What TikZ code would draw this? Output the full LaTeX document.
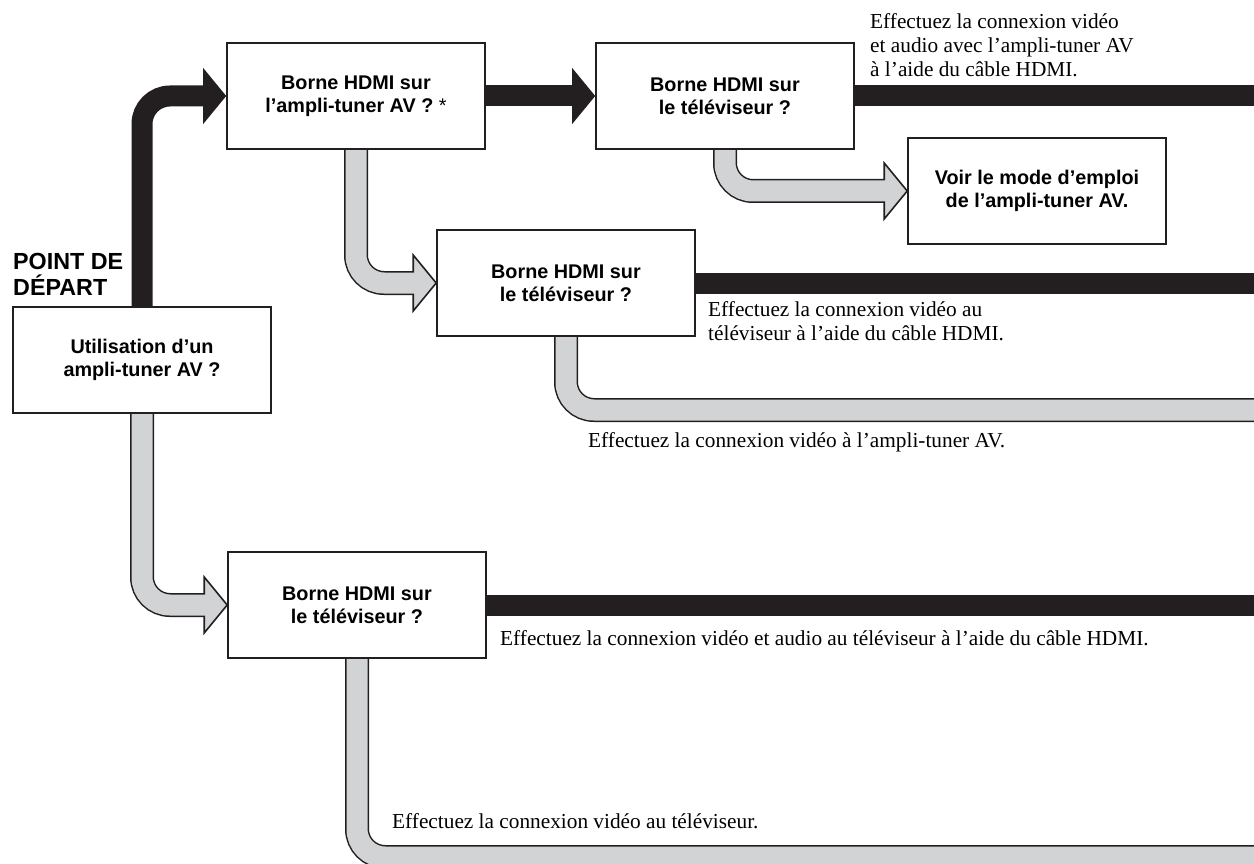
\documentclass[tikz,border=0pt]{standalone}
\usepackage{fontspec}
\setmainfont{Liberation Serif}
\setsansfont{Liberation Sans}
\usetikzlibrary{calc, backgrounds}

\definecolor{ink}{HTML}{231F20}
\definecolor{pale}{HTML}{D1D3D4}

\tikzset{
  box/.style={draw=ink, line width=1.6pt, fill=white, minimum width=258pt,
    minimum height=106pt, inner sep=0pt, align=center,
    font=\sffamily\bfseries\fontsize{19.8}{23}\selectfont},
  title/.style={anchor=base west, inner sep=0pt, align=left,
    font=\sffamily\bfseries\fontsize{23.3}{26}\selectfont},
  note/.style={anchor=base west, inner sep=0pt, align=left,
    font=\fontsize{21.3}{24}\selectfont},
  oui/.style={draw=ink, line width=21pt, rounded corners=28pt},
  nonout/.style={draw=ink, line width=24pt, rounded corners=28pt},
  nonin/.style={draw=pale, line width=21pt, rounded corners=28pt},
  nonhead/.style={fill=pale, draw=ink, line width=1.6pt},
}

\newcommand{\ouihead}[1]{%
  \fill[ink] (#1.west) -- ++(-23,-28) -- ++(0,56) -- cycle;}
\newcommand{\nonarrow}[2]{%
  \draw[nonout] (#1) |- ($(#2.west)+(-23,0)$);
  \filldraw[nonhead] (#2.west) -- ++(-23,-28) -- ++(0,56) -- cycle;
  \draw[nonin] (#1) |- ($(#2.west)+(-21,0)$);}
\newcommand{\nonline}[2]{%
  \draw[nonout] (#1) |- (#2);
  \draw[nonin] (#1) |- (#2);}

\begin{document}
\begin{tikzpicture}[x=1pt, y=-1pt]
\useasboundingbox (0,0) rectangle (1254,864);
\coordinate (rim) at (1254,0);
\coordinate (rimmid) at (1254,410);
\coordinate (rimbot) at (1254,857);

\node[box] (depart) at (142,360) {Utilisation d’un\\ampli-tuner AV ?};
\node[box] (amp) at (356,96) {Borne HDMI sur\\l’ampli-tuner AV ? {\mdseries *}};
\node[box] (tvamp) at (725,96) {Borne HDMI sur\\le téléviseur ?};
\node[box] (mode) at (1037,191) {Voir le mode d’emploi\\de l’ampli-tuner AV.};
\node[box] (tvnoamp) at (566,283) {Borne HDMI sur\\le téléviseur ?};
\node[box] (tvsolo) at (357,605) {Borne HDMI sur\\le téléviseur ?};

\node[title] (start) at (13,295) {POINT DE\\DÉPART};

\node[note] (note-av) at (870,77) {Effectuez la connexion vidéo\\et audio avec l’ampli-tuner AV\\à l’aide du câble HDMI.};
\node[note] (note-tv) at (708,340) {Effectuez la connexion vidéo au\\téléviseur à l’aide du câble HDMI.};
\node[note] (note-video) at (588,447) {Effectuez la connexion vidéo à l’ampli-tuner AV.};
\node[note] (note-hdmi) at (500,645) {Effectuez la connexion vidéo et audio au téléviseur à l’aide du câble HDMI.};
\node[note] (note-solo) at (392,828) {Effectuez la connexion vidéo au téléviseur.};

\begin{scope}[on background layer]
\draw[oui] (depart.north) |- ($(amp.west)+(-22,0)$);
\ouihead{amp}
\draw[oui] (amp.east) -- ($(tvamp.west)+(-22,0)$);
\ouihead{tvamp}
\draw[oui] (tvamp.east) -- (tvamp.east -| rim);
\draw[oui] (tvnoamp.east) -- (tvnoamp.east -| rim);
\draw[oui] (tvsolo.east) -- (tvsolo.east -| rim);

\nonarrow{amp.south}{tvnoamp}
\nonarrow{tvamp.south}{mode}
\nonarrow{depart.south}{tvsolo}
\nonline{tvnoamp.south}{rimmid}
\nonline{tvsolo.south}{rimbot}
\end{scope}
\end{tikzpicture}
\end{document}
